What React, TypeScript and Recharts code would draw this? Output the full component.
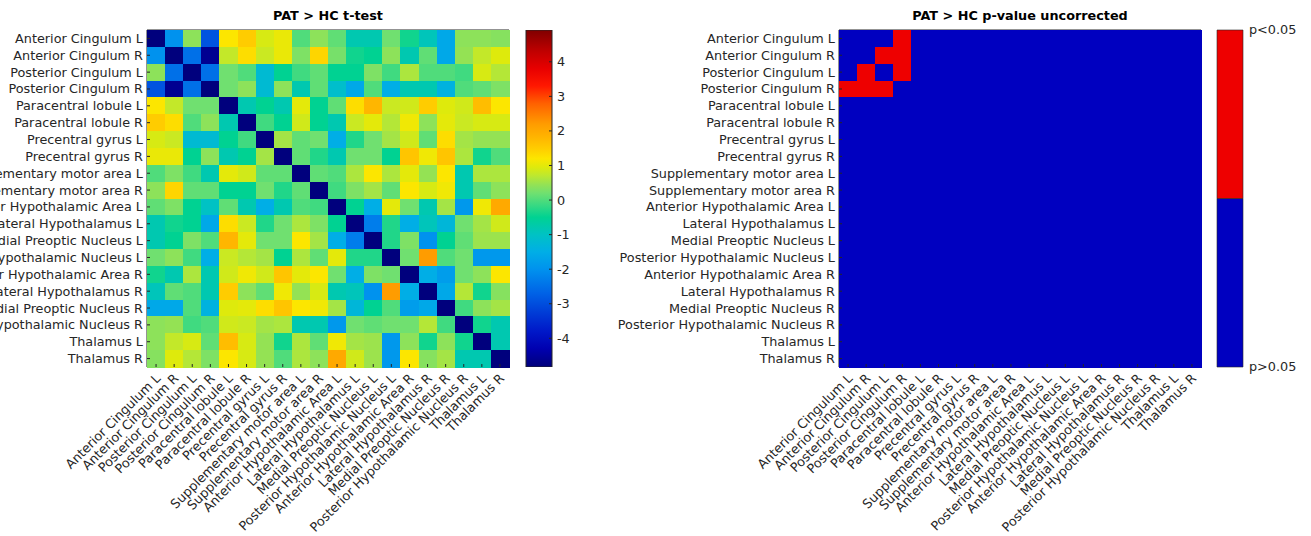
import React from "react";
import { ComposedChart, BarChart, Bar, Scatter, XAxis, YAxis } from "recharts";

// ---- data ----
const REGIONS = [
  "Anterior Cingulum L",
  "Anterior Cingulum R",
  "Posterior Cingulum L",
  "Posterior Cingulum R",
  "Paracentral lobule L",
  "Paracentral lobule R",
  "Precentral gyrus L",
  "Precentral gyrus R",
  "Supplementary motor area L",
  "Supplementary motor area R",
  "Anterior Hypothalamic Area L",
  "Lateral Hypothalamus L",
  "Medial Preoptic Nucleus L",
  "Posterior Hypothalamic Nucleus L",
  "Anterior Hypothalamic Area R",
  "Lateral Hypothalamus R",
  "Medial Preoptic Nucleus R",
  "Posterior Hypothalamic Nucleus R",
  "Thalamus L",
  "Thalamus R",
];

// t values (diagonal shown at the colour minimum)
const T_VALUES: number[][] = [
  [-4.8, -2.0, 0.4, -2.9, 1.2, 1.5, 0.9, 1.05, 0.0, 0.4, 0.1, -0.8, -0.8, 0.2, -0.4, -0.9, -1.6, 0.4, 0.4, 0.35],
  [-2.0, -4.8, -2.5, -4.6, 0.75, 1.3, 0.8, 1.05, 0.3, 1.4, 0.25, -0.4, -0.5, 0.4, -0.8, 0.1, -1.6, 0.45, 0.75, 0.95],
  [0.4, -2.5, -4.8, -2.5, 0.2, 0.0, -1.2, -0.5, -0.1, 0.1, -0.5, -0.5, 0.3, -0.1, 0.6, 0.0, 0.0, -0.1, 0.9, 0.65],
  [-2.9, -4.6, -2.5, -4.8, 0.2, 0.4, -1.2, 0.4, -0.8, 0.1, -1.1, -1.6, 0.0, -1.5, -0.8, -0.8, -1.4, 0.0, 0.1, 0.3],
  [1.2, 0.75, 0.2, 0.2, -4.8, -0.8, -0.5, -0.8, 1.0, -0.5, 0.1, 1.3, 1.8, 0.8, 0.85, 1.5, 0.95, 0.85, 1.7, 1.2],
  [1.5, 1.3, 0.0, 0.4, -0.8, -4.8, -0.1, -0.5, 0.85, -0.5, -0.8, 0.8, 1.0, 0.65, 1.1, 0.4, 1.0, 0.8, 0.9, 0.9],
  [0.9, 0.8, -1.2, -1.2, -0.5, -0.1, -4.8, 0.55, 0.1, 0.2, -1.5, -0.3, 0.2, 0.55, 0.85, 0.1, 1.3, 0.55, 0.45, 0.45],
  [1.05, 1.05, -0.5, 0.4, -0.8, -0.5, 0.55, -4.8, 0.1, -0.3, -0.8, 0.2, 0.2, -0.5, 1.6, 1.1, 1.6, 0.6, -0.4, 0.0],
  [0.0, 0.3, -0.1, -0.8, 1.0, 0.85, 0.1, 0.1, -4.8, 0.1, 0.0, 0.6, 1.2, 0.6, 1.0, 0.45, 1.2, -0.8, 0.6, 0.6],
  [0.4, 1.4, 0.1, 0.1, -0.5, -0.5, 0.2, -0.3, 0.1, -4.8, -0.1, 0.3, 0.55, 0.1, 1.2, 0.9, 1.1, -0.8, 0.1, 0.4],
  [0.1, 0.3, -0.5, -1.0, 0.1, -0.8, -1.5, -0.8, 0.0, -0.1, -4.8, -0.5, -1.5, 1.0, 0.2, -0.8, 0.55, -1.9, 1.1, 2.0],
  [-0.8, -0.4, -0.5, -1.6, 1.3, 0.8, -0.3, 0.2, 0.6, 0.3, -0.5, -4.8, -2.3, -0.3, -1.5, -0.9, -1.3, 0.2, 0.55, 0.85],
  [-0.8, -0.5, 0.3, 0.0, 1.8, 1.0, 0.2, 0.2, 1.2, 0.55, -1.5, -2.3, -4.8, -0.3, 0.3, -2.0, -0.5, 0.1, 0.5, 0.5],
  [0.2, 0.4, -0.1, -1.5, 0.8, 0.65, 0.55, -0.5, 0.6, 0.1, 1.0, -0.3, -0.3, -4.8, 0.2, 2.2, 0.0, 0.2, -1.9, -1.9],
  [-0.4, -0.8, 0.6, -0.8, 0.85, 1.1, 0.85, 1.6, 1.0, 1.2, 0.2, -1.5, 0.3, 0.2, -4.8, -1.5, -1.8, 0.2, 0.4, 1.2],
  [-0.9, 0.1, 0.0, -0.8, 1.5, 0.4, 0.1, 1.1, 0.45, 0.9, -0.8, -0.9, -2.0, 2.2, -1.5, -4.8, -1.6, 0.65, -0.4, 0.35],
  [-1.6, -1.6, 0.0, -1.4, 0.95, 1.0, 1.3, 1.6, 1.2, 1.1, 0.55, -1.3, -0.5, 0.0, -1.8, -1.6, -4.8, -0.1, 0.4, 0.55],
  [0.4, 0.45, -0.1, 0.0, 0.85, 0.8, 0.55, 0.6, -0.8, -0.8, -1.9, 0.2, 0.1, 0.2, 0.2, 0.65, -0.1, -4.8, -0.4, -0.8],
  [0.4, 0.75, 0.9, 0.1, 1.7, 0.9, 0.45, -0.4, 0.6, 0.1, 1.1, 0.55, 0.5, -1.9, 0.4, -0.4, 0.4, -0.4, -4.8, -0.8],
  [0.35, 0.95, 0.65, 0.3, 1.2, 0.9, 0.45, 0.0, 0.6, 0.4, 2.0, 0.85, 0.5, -1.9, 1.2, 0.35, 0.55, -0.8, -0.8, -4.8],
];

// cells with p < 0.05 (row, col) on the right map
const SIG_PAIRS: [number, number][] = [
  [0, 3], [1, 2], [1, 3], [2, 1], [2, 3], [3, 0], [3, 1], [3, 2],
];

const CB_MIN = -4.83;
const CB_MAX = 4.92;
const CB_TICKS = [-4, -3, -2, -1, 0, 1, 2, 3, 4];

// jet-like colormap as sampled from the colour bar
const CMAP_VALUES = [-4.83, -4.3, -3.8, -3.2, -2.7, -2.0, -1.5, -1.0, -0.5, -0.1, 0.2, 0.45, 0.7, 0.95, 1.2, 1.5, 1.8, 2.2, 2.8, 3.3, 3.8, 4.3, 4.92];
const CMAP_COLORS = ["#00007a", "#0000b0", "#0018c8", "#0040d8", "#0062e6", "#0092ee", "#00aee6", "#00c2c4", "#00d292", "#40da80", "#70e070", "#94e254", "#bce830", "#deea0c", "#fce600", "#ffcc00", "#ffb600", "#ff9c00", "#ff6000", "#ff1800", "#e80000", "#c00000", "#800000"];

const P_LABELS = ["p>0.05", "p<0.05"];
const P_COLORS = ["#0000c0", "#ee0000"];

// ---- layout ----
const CHART_H = 536;
const PLOT_TOP = 30;
const PLOT_H = 337;
const PLOT_W = 362;
const CELL_W = PLOT_W / 20;
const CELL_H = PLOT_H / 20;
const TICK_LEN = 3;
const FS = 12.8;
const AXIS_COLOR = "#262626";
const FONT = "'DejaVu Sans', sans-serif";
const IDX = REGIONS.map((_, i) => i);

function hexToRgb(h: string) {
  const n = parseInt(h.slice(1), 16);
  return [(n >> 16) & 255, (n >> 8) & 255, n & 255];
}

function jetColor(v: number) {
  const x = Math.max(CMAP_VALUES[0], Math.min(CMAP_VALUES[CMAP_VALUES.length - 1], v));
  let i = 0;
  while (i < CMAP_VALUES.length - 2 && x > CMAP_VALUES[i + 1]) i++;
  const t = (x - CMAP_VALUES[i]) / (CMAP_VALUES[i + 1] - CMAP_VALUES[i]);
  const a = hexToRgb(CMAP_COLORS[i]);
  const b = hexToRgb(CMAP_COLORS[i + 1]);
  const c = a.map((ai, k) => Math.round(ai + (b[k] - ai) * t));
  return `rgb(${c[0]},${c[1]},${c[2]})`;
}

const tCells = T_VALUES.flatMap((row, r) => row.map((v, c) => ({ x: c, y: r, v })));
const sigCells = IDX.flatMap((r) =>
  IDX.map((c) => ({ x: c, y: r, v: SIG_PAIRS.some(([a, b]) => a === r && b === c) ? 1 : 0 }))
);

// colour bar rows for the bar charts
const tBarData = [{ name: "t", range: [CB_MIN, CB_MAX] }];
const pBarData = [{ name: "p", below: 1, above: 1 }];

// eslint-disable-next-line @typescript-eslint/no-explicit-any
function LeftTick({ x, y, payload }: any) {
  return (
    <g>
      <line x1={x} x2={x + TICK_LEN} y1={y} y2={y} stroke={AXIS_COLOR} />
      <text x={x - 4} y={y} dy="0.35em" textAnchor="end" fontSize={FS} fill={AXIS_COLOR} fontFamily={FONT}>
        {REGIONS[payload.value]}
      </text>
    </g>
  );
}

// eslint-disable-next-line @typescript-eslint/no-explicit-any
function BottomTick({ x, y, payload }: any) {
  const ax = x + 2;
  const ay = y + 9;
  return (
    <g>
      <line x1={x} x2={x} y1={y} y2={y - TICK_LEN} stroke={AXIS_COLOR} />
      <text
        x={ax}
        y={ay}
        dy="0.35em"
        textAnchor="end"
        transform={`rotate(-45 ${ax} ${ay})`}
        fontSize={FS}
        fill={AXIS_COLOR}
        fontFamily={FONT}
      >
        {REGIONS[payload.value]}
      </text>
    </g>
  );
}

// eslint-disable-next-line @typescript-eslint/no-explicit-any
function TopTick({ x, y }: any) {
  return <line x1={x} x2={x} y1={y} y2={y + TICK_LEN} stroke={AXIS_COLOR} />;
}

// eslint-disable-next-line @typescript-eslint/no-explicit-any
function RightTick({ x, y }: any) {
  return <line x1={x} x2={x - TICK_LEN} y1={y} y2={y} stroke={AXIS_COLOR} />;
}

// eslint-disable-next-line @typescript-eslint/no-explicit-any
function CbTick({ x, y, payload }: any) {
  return (
    <g>
      <line x1={x} x2={x - TICK_LEN} y1={y} y2={y} stroke={AXIS_COLOR} />
      <text x={x + 5} y={y} dy="0.35em" textAnchor="start" fontSize={FS} fill={AXIS_COLOR} fontFamily={FONT}>
        {payload.value}
      </text>
    </g>
  );
}

// eslint-disable-next-line @typescript-eslint/no-explicit-any
function PTick({ x, y, payload }: any) {
  return (
    <text x={x + 6} y={y} dy="0.35em" textAnchor="start" fontSize={FS} fill={AXIS_COLOR} fontFamily={FONT}>
      {payload.value === 0 ? P_LABELS[0] : P_LABELS[1]}
    </text>
  );
}

interface HeatProps {
  left: number;
  yAxisWidth: number;
  cells: { x: number; y: number; v: number }[];
  colorOf: (v: number) => string;
  title: string;
}

function Heatmap({ left, yAxisWidth, cells, colorOf, title }: HeatProps) {
  // eslint-disable-next-line @typescript-eslint/no-explicit-any
  const cellShape = (p: any) => (
    <rect
      x={p.cx - CELL_W / 2}
      y={p.cy - CELL_H / 2}
      width={CELL_W + 0.6}
      height={CELL_H + 0.6}
      fill={colorOf(p.payload.v)}
      shapeRendering="crispEdges"
    />
  );
  return (
    <div style={{ position: "absolute", left, top: 0 }}>
      <div
        style={{
          position: "absolute",
          left: yAxisWidth,
          width: PLOT_W,
          top: 9,
          textAlign: "center",
          fontFamily: FONT,
          fontWeight: "bold",
          fontSize: FS,
          lineHeight: "14px",
          color: "#000",
        }}
      >
        {title}
      </div>
      <ComposedChart width={yAxisWidth + PLOT_W + 1} height={CHART_H} margin={{ top: 0, right: 0, bottom: 0, left: 0 }}>
        <Scatter data={cells} xAxisId="b" yAxisId="l" shape={cellShape} isAnimationActive={false} />
        <XAxis
          xAxisId="b"
          dataKey="x"
          type="number"
          orientation="bottom"
          domain={[-0.5, 19.5]}
          ticks={IDX}
          interval={0}
          height={CHART_H - PLOT_TOP - PLOT_H}
          tickSize={0}
          tickMargin={0}
          tick={<BottomTick />}
          stroke={AXIS_COLOR}
        />
        <XAxis
          xAxisId="t"
          type="number"
          orientation="top"
          domain={[-0.5, 19.5]}
          ticks={IDX}
          interval={0}
          height={PLOT_TOP}
          tickSize={0}
          tickMargin={0}
          tick={<TopTick />}
          stroke={AXIS_COLOR}
        />
        <YAxis
          yAxisId="l"
          dataKey="y"
          type="number"
          domain={[-0.5, 19.5]}
          reversed
          ticks={IDX}
          interval={0}
          width={yAxisWidth}
          tickSize={0}
          tickMargin={0}
          tick={<LeftTick />}
          stroke={AXIS_COLOR}
        />
        <YAxis
          yAxisId="r"
          type="number"
          orientation="right"
          domain={[-0.5, 19.5]}
          reversed
          ticks={IDX}
          interval={0}
          width={1}
          tickSize={0}
          tickMargin={0}
          tick={<RightTick />}
          stroke={AXIS_COLOR}
        />
      </ComposedChart>
    </div>
  );
}

function TColorBar() {
  const span = CB_MAX - CB_MIN;
  return (
    <div style={{ position: "absolute", left: 500, top: 0 }}>
      <BarChart
        width={80}
        height={CHART_H}
        data={tBarData}
        barCategoryGap={0}
        margin={{ top: PLOT_TOP, right: 0, bottom: CHART_H - PLOT_TOP - PLOT_H, left: 26 }}
      >
        <defs>
          <linearGradient id="jetBar" x1="0" y1="0" x2="0" y2="1">
            {CMAP_VALUES.map((v, i) => (
              <stop key={i} offset={(CB_MAX - v) / span} stopColor={CMAP_COLORS[i]} />
            )).reverse()}
          </linearGradient>
        </defs>
        <XAxis dataKey="name" hide />
        <YAxis
          type="number"
          orientation="right"
          domain={[CB_MIN, CB_MAX]}
          allowDataOverflow
          ticks={CB_TICKS}
          interval={0}
          width={28}
          tickSize={0}
          tickMargin={0}
          axisLine={false}
          tick={<CbTick />}
        />
        <Bar dataKey="range" fill="url(#jetBar)" stroke={AXIS_COLOR} strokeWidth={1} isAnimationActive={false} />
      </BarChart>
    </div>
  );
}

function PColorBar() {
  return (
    <div style={{ position: "absolute", left: 1190, top: 0 }}>
      <BarChart
        width={121}
        height={CHART_H}
        data={pBarData}
        barCategoryGap={0}
        margin={{ top: PLOT_TOP, right: 0, bottom: CHART_H - PLOT_TOP - PLOT_H, left: 27 }}
      >
        <XAxis dataKey="name" hide />
        <YAxis
          type="number"
          orientation="right"
          domain={[0, 2]}
          ticks={[0, 2]}
          interval={0}
          width={68}
          tickSize={0}
          tickMargin={0}
          axisLine={false}
          tick={<PTick />}
        />
        <Bar dataKey="below" stackId="p" fill={P_COLORS[0]} stroke={AXIS_COLOR} strokeWidth={0.6} isAnimationActive={false} />
        <Bar dataKey="above" stackId="p" fill={P_COLORS[1]} stroke={AXIS_COLOR} strokeWidth={0.6} isAnimationActive={false} />
      </BarChart>
    </div>
  );
}

export default function App() {
  return (
    <div
      style={{
        position: "absolute",
        left: 0,
        top: 0,
        width: 1311,
        height: CHART_H,
        overflow: "hidden",
        background: "#fff",
      }}
    >
      <Heatmap left={0} yAxisWidth={147} cells={tCells} colorOf={jetColor} title="PAT > HC t-test" />
      <TColorBar />
      <Heatmap
        left={600}
        yAxisWidth={239}
        cells={sigCells}
        colorOf={(v) => P_COLORS[v]}
        title="PAT > HC p-value uncorrected"
      />
      <PColorBar />
    </div>
  );
}
